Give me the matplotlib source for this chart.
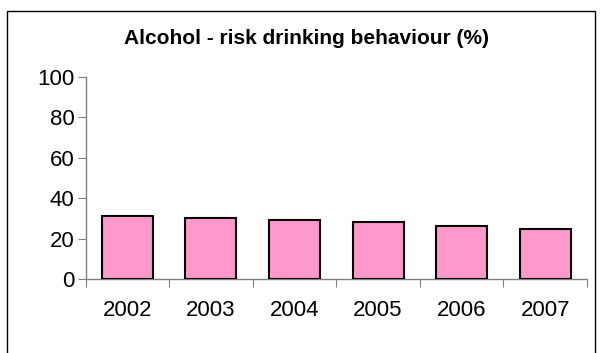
import numpy as np
import matplotlib
matplotlib.use('Agg')
import matplotlib.pyplot as plt
from matplotlib.patches import Rectangle

plt.rcParams['font.family'] = ['Liberation Sans', 'DejaVu Sans']

# data
years = ['2002', '2003', '2004', '2005', '2006', '2007']
risk_pct = [31, 30, 29, 28, 26, 25]
y_ticks = [0, 20, 40, 60, 80, 100]

fig = plt.figure(figsize=(6.04, 3.53), dpi=100)
fig.patches.append(Rectangle((0.0116, -0.1), 0.9735, 1.069, transform=fig.transFigure,
                             fill=False, edgecolor='black', linewidth=1.0))

ax = fig.add_axes([0.1416, 0.2096, 0.8303, 0.5723])
x = np.arange(len(years))
ax.bar(x, risk_pct, width=0.61, color='#FF99CC', edgecolor='black', linewidth=1.5, zorder=3)

ax.set_xlim(-0.5, len(years) - 0.5)
ax.set_ylim(0, 100)
ax.set_yticks(y_ticks)
ax.set_yticklabels([str(v) for v in y_ticks], fontsize=16)
ax.set_xticks(np.arange(-0.5, len(years)), minor=False)
ax.set_xticklabels([])
ax.set_xticks(x, minor=True)
ax.set_xticklabels(years, minor=True, fontsize=16)
ax.tick_params(axis='x', which='major', length=6, color='#808080', direction='out')
ax.tick_params(axis='x', which='minor', length=0, pad=15)
ax.tick_params(axis='y', length=6, color='#808080', pad=2)

for s in ['top', 'right']:
    ax.spines[s].set_visible(False)
for s in ['left', 'bottom']:
    ax.spines[s].set_color('#808080')
    ax.spines[s].set_linewidth(1.0)

fig.text(0.507, 0.892, 'Alcohol - risk drinking behaviour (%)', ha='center', va='center',
         fontsize=15, fontweight='bold')

fig.savefig('out.png', dpi=100)
